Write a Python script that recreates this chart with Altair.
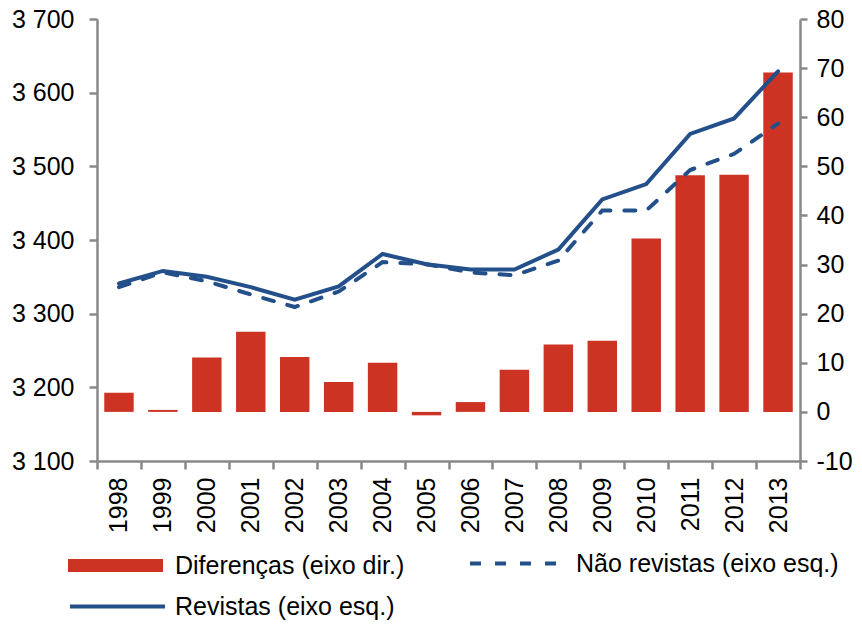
import altair as alt
import pandas as pd

years = [str(y) for y in range(1998, 2014)]
revistas = [3341, 3358, 3350, 3336, 3319, 3337, 3381, 3367, 3360, 3360, 3387, 3455, 3476, 3544, 3565, 3629]
nao_revistas = [3336, 3356, 3344, 3326, 3309, 3330, 3370, 3367, 3356, 3352, 3372, 3440, 3440, 3495, 3517, 3558]
diferencas = [3.9, 0.4, 11.1, 16.3, 11.2, 6.1, 10.0, -0.7, 2.0, 8.6, 13.7, 14.5, 35.3, 48.2, 48.3, 69.1]

S_DIF = "Diferenças (eixo dir.)"
S_NAO = "Não revistas (eixo esq.)"
S_REV = "Revistas (eixo esq.)"

RED = "#CC3322"
BLUE = "#23508A"
GREY = "#898989"
FONT = "Liberation Sans"
FS = 25
DASH = [11, 14]

df = pd.DataFrame({"ano": years, "rev": revistas, "nao": nao_revistas, "dif": diferencas})

PLOT_TOP = 11  # padding top


def leg(x, y, offset, **kw):
    return alt.Legend(
        title=None, orient="none", legendX=x, legendY=y, padding=0,
        labelFontSize=FS, labelFont=FONT, labelColor="black", labelOffset=offset,
        labelLimit=400, symbolSize=9025, symbolOpacity=1, **kw,
    )


x_enc = alt.X(
    "ano:O",
    title=None,
    scale=alt.Scale(paddingInner=0, paddingOuter=0),
    axis=alt.Axis(
        labelAngle=-90, tickBand="extent", labelPadding=8, tickSize=8,
        labelFontSize=FS, labelFont=FONT, labelColor="black",
        domainColor=GREY, tickColor=GREY, domainWidth=2.5, tickWidth=2.5,
    ),
)

left_axis = alt.Axis(
    orient="left", values=list(range(3100, 3701, 100)), grid=False,
    labelExpr="replace(format(datum.value, ','), ',', ' ')",
    labelPadding=15, tickSize=8, labelFontSize=FS, labelFont=FONT, labelColor="black",
    domainColor=GREY, tickColor=GREY, domainWidth=2.5, tickWidth=2.5,
)
left_scale = alt.Scale(domain=[3100, 3700], nice=False, zero=False)

bars = alt.Chart(df).transform_calculate(serie=f"'{S_DIF}'").mark_bar(
    width=alt.RelativeBandSize(0.67)
).encode(
    x=x_enc,
    y=alt.Y(
        "dif:Q",
        title=None,
        scale=alt.Scale(domain=[-10, 80], nice=False, zero=True),
        axis=alt.Axis(
            orient="right", values=list(range(-10, 81, 10)), grid=False,
            labelExpr="'' + datum.value",
            labelPadding=9, tickSize=7, labelFontSize=FS, labelFont=FONT, labelColor="black",
            domainColor=GREY, tickColor=GREY, domainWidth=2.5, tickWidth=2.5,
        ),
    ),
    color=alt.Color(
        "serie:N",
        scale=alt.Scale(domain=[S_DIF], range=[RED]),
        legend=leg(-29, 499, 12, symbolType="M-1,-0.137H1V0.137H-1Z", symbolStrokeWidth=0),
    ),
)

line_nao = alt.Chart(df).transform_calculate(serie=f"'{S_NAO}'").mark_line(
    strokeWidth=4, strokeDash=DASH, strokeCap="round"
).encode(
    x=x_enc,
    y=alt.Y("nao:Q", title=None, scale=left_scale, axis=left_axis),
    color=alt.Color(
        "serie:N",
        scale=alt.Scale(domain=[S_NAO], range=[BLUE]),
        legend=leg(371, 495, 9, symbolType="stroke", symbolStrokeWidth=4, symbolDash=DASH),
    ),
)

line_rev = alt.Chart(df).transform_calculate(serie=f"'{S_REV}'").mark_line(
    strokeWidth=4, strokeCap="round"
).encode(
    x=x_enc,
    y=alt.Y("rev:Q", title=None, scale=left_scale, axis=left_axis),
    color=alt.Color(
        "serie:N",
        scale=alt.Scale(domain=[S_REV], range=[BLUE]),
        legend=leg(-29, 538, 8, symbolType="stroke", symbolStrokeWidth=4),
    ),
)

lines = alt.layer(line_nao, line_rev).resolve_scale(color="independent")

chart = (
    alt.layer(bars, lines)
    .resolve_scale(y="independent", color="independent")
    .properties(
        width=703,
        height=442,
        autosize=alt.AutoSizeParams(type="none"),
        padding={"left": 89, "top": PLOT_TOP, "right": 54, "bottom": 161},
    )
    .configure_view(stroke=None)
)

chart.save("out.html", embed_options={"renderer": "svg", "actions": False})
